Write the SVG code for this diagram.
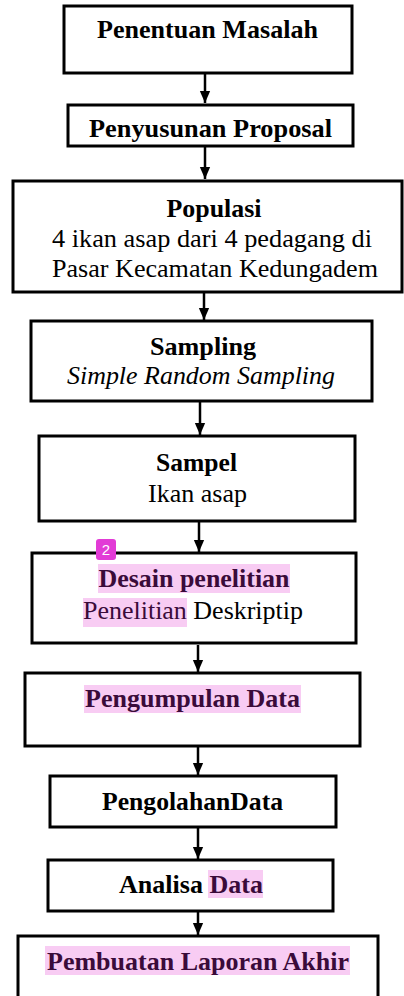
<svg xmlns="http://www.w3.org/2000/svg" width="404" height="996" viewBox="0 0 404 996">
<style>
.box{fill:#fff;stroke:#000;stroke-width:3}
.t{font-family:'Liberation Serif','Times New Roman','DejaVu Serif',serif;font-size:25px;fill:#000;text-anchor:middle}
.b{font-weight:bold}
.i{font-style:italic}
.hl{fill:#f8ccf3}
.hp{fill:#3a0b3a}
.conn{stroke:#000;stroke-width:2.5;fill:none}
.badge{fill:#e23bd6}
.bt{font-family:'Liberation Sans',Arial,sans-serif;font-size:15px;fill:#fff;text-anchor:middle}
</style>
<defs>
<marker id="ah" markerUnits="userSpaceOnUse" markerWidth="12" markerHeight="14" refX="14" refY="6" orient="auto" viewBox="0 0 14 12">
<path d="M0,0 L14,6 L0,12 Z" fill="#000"/>
</marker>
</defs>
<rect width="404" height="996" fill="#fff"/>
<g id="connectors">
<line class="conn" x1="205" y1="74" x2="205" y2="103" marker-end="url(#ah)"/>
<line class="conn" x1="205" y1="147" x2="205" y2="179" marker-end="url(#ah)"/>
<line class="conn" x1="204" y1="293" x2="204" y2="320" marker-end="url(#ah)"/>
<line class="conn" x1="200" y1="402" x2="200" y2="435" marker-end="url(#ah)"/>
<line class="conn" x1="199" y1="522" x2="199" y2="552" marker-end="url(#ah)"/>
<line class="conn" x1="198" y1="645" x2="198" y2="672" marker-end="url(#ah)"/>
<line class="conn" x1="198" y1="747" x2="198" y2="775" marker-end="url(#ah)"/>
<line class="conn" x1="198" y1="828" x2="198" y2="859" marker-end="url(#ah)"/>
<line class="conn" x1="198" y1="912" x2="198" y2="935" marker-end="url(#ah)"/>
</g>
<g font-family="Liberation Serif, Times New Roman, DejaVu Serif, serif">
<g id="n1">
<rect class="box" x="64" y="6" width="288" height="67"/>
<text class="t b" x="207.5" y="38" textLength="221" lengthAdjust="spacingAndGlyphs">Penentuan Masalah</text>
</g>
<g id="n2">
<rect class="box" x="68" y="105" width="285" height="41"/>
<text class="t b" x="210.5" y="137" textLength="243" lengthAdjust="spacingAndGlyphs">Penyusunan Proposal</text>
</g>
<g id="n3">
<rect class="box" x="13" y="181" width="389" height="111"/>
<text class="t b" x="214" y="217" textLength="95" lengthAdjust="spacingAndGlyphs">Populasi</text>
<text class="t" x="212" y="247" textLength="320" lengthAdjust="spacingAndGlyphs">4 ikan asap dari 4 pedagang di</text>
<text class="t" x="215" y="277" textLength="326" lengthAdjust="spacingAndGlyphs">Pasar Kecamatan Kedungadem</text>
</g>
<g id="n4">
<rect class="box" x="31" y="321" width="341" height="80"/>
<text class="t b" x="203" y="355" textLength="106" lengthAdjust="spacingAndGlyphs">Sampling</text>
<text class="t i" x="201" y="384" textLength="268" lengthAdjust="spacingAndGlyphs">Simple Random Sampling</text>
</g>
<g id="n5">
<rect class="box" x="39" y="436" width="316" height="85"/>
<text class="t b" x="196.5" y="471" textLength="81" lengthAdjust="spacingAndGlyphs">Sampel</text>
<text class="t" x="197.5" y="502" textLength="99" lengthAdjust="spacingAndGlyphs">Ikan asap</text>
</g>
<g id="n6">
<rect class="box" x="32" y="553" width="324" height="90"/>
<rect class="hl" x="98" y="564" width="192" height="29"/>
<rect class="hl" x="83" y="598" width="104" height="29"/>
<text class="t b hp" x="194" y="587" textLength="191" lengthAdjust="spacingAndGlyphs">Desain penelitian</text>
<text class="t" x="193" y="619" textLength="220" lengthAdjust="spacingAndGlyphs"><tspan class="hp">Penelitian</tspan> Deskriptip</text>
<rect class="badge" x="96" y="539" width="20" height="21" rx="3"/>
<text class="bt" x="106" y="555">2</text>
</g>
<g id="n7">
<rect class="box" x="25" y="673" width="335" height="73"/>
<rect class="hl" x="84" y="685" width="217" height="28"/>
<text class="t b hp" x="192.5" y="707" textLength="215" lengthAdjust="spacingAndGlyphs">Pengumpulan Data</text>
</g>
<g id="n8">
<rect class="box" x="50" y="776" width="286" height="51"/>
<text class="t b" x="192.5" y="810" textLength="181" lengthAdjust="spacingAndGlyphs">PengolahanData</text>
</g>
<g id="n9">
<rect class="box" x="48" y="860" width="285" height="51"/>
<rect class="hl" x="208" y="870" width="55" height="28"/>
<text class="t b" x="191" y="893" textLength="144" lengthAdjust="spacingAndGlyphs">Analisa <tspan class="hp">Data</tspan></text>
</g>
<g id="n10">
<rect class="box" x="18" y="936" width="360" height="70"/>
<rect class="hl" x="45" y="946" width="305" height="29"/>
<text class="t b hp" x="198" y="970" textLength="302" lengthAdjust="spacingAndGlyphs">Pembuatan Laporan Akhir</text>
</g>
</g>
</svg>
